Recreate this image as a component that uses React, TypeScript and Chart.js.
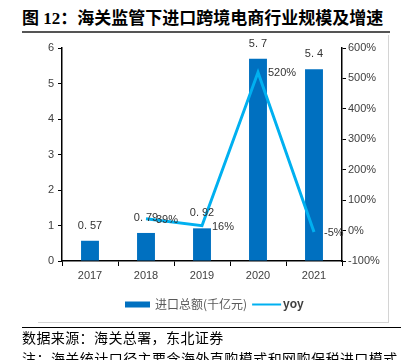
import React, { useEffect, useRef } from "react";
import { Chart, registerables } from "chart.js";

Chart.register(...registerables);

const categories = ["2017", "2018", "2019", "2020", "2021"];
const importTotals = [0.57, 0.79, 0.92, 5.7, 5.4];
const yoyGrowth: (number | null)[] = [null, 39, 16, 520, -5];
const leftTicks = { min: 0, max: 6, step: 1 };
const rightTicks = { min: -100, max: 600, step: 100 };
const seriesNames = ["进口总额(千亿元)", "yoy"];

const BAR_COLOR = "#0070C0";
const LINE_COLOR = "#00B0F0";
const NUM_FONT = "'Liberation Sans', Arial, sans-serif";
const CJK_FONT = "'Noto Sans CJK SC', sans-serif";

const labelPlugin = {
  id: "customLabels",
  afterDatasetsDraw(chart: any) {
    const ctx = chart.ctx;
    ctx.save();
    ctx.font = `11px ${NUM_FONT}`;
    ctx.fillStyle = "#333333";
    const barMeta = chart.getDatasetMeta(0);
    barMeta.data.forEach((el: any, i: number) => {
      const txt = String(importTotals[i]).replace(".", ". ");
      ctx.textAlign = "center";
      ctx.textBaseline = "middle";
      ctx.fillText(txt, el.x, el.y - 15);
    });
    const lineMeta = chart.getDatasetMeta(1);
    lineMeta.data.forEach((el: any, i: number) => {
      const v = yoyGrowth[i];
      if (v === null || v === undefined) return;
      ctx.textAlign = "left";
      ctx.textBaseline = "middle";
      ctx.fillText(`${v}%`, el.x + 10, el.y + 1);
    });
    ctx.restore();
  },
  afterDraw(chart: any) {
    const ctx = chart.ctx;
    ctx.save();
    let x = 125;
    const y = 304.5;
    ctx.fillStyle = BAR_COLOR;
    ctx.fillRect(x, y - 3, 25, 6);
    x += 30;
    ctx.font = `12px ${CJK_FONT}`;
    ctx.fillStyle = "#595959";
    ctx.textAlign = "left";
    ctx.textBaseline = "middle";
    ctx.fillText(seriesNames[0], x, y);
    x += ctx.measureText(seriesNames[0]).width + 5;
    ctx.strokeStyle = LINE_COLOR;
    ctx.lineWidth = 2;
    ctx.beginPath();
    ctx.moveTo(x, y);
    ctx.lineTo(x + 29, y);
    ctx.stroke();
    x += 31;
    ctx.font = `bold 12px ${NUM_FONT}`;
    ctx.fillStyle = "#404040";
    ctx.fillText(seriesNames[1], x, y);
    ctx.restore();
  },
};

export default function App() {
  const ref = useRef<HTMLCanvasElement>(null);
  useEffect(() => {
    if (!ref.current) return;
    const chart = new Chart(ref.current, {
      type: "bar",
      data: {
        labels: categories,
        datasets: [
          {
            type: "bar",
            label: seriesNames[0],
            data: importTotals,
            backgroundColor: BAR_COLOR,
            yAxisID: "y",
            barPercentage: 0.32,
            categoryPercentage: 1,
            order: 2,
          },
          {
            type: "line",
            label: seriesNames[1],
            data: yoyGrowth,
            borderColor: LINE_COLOR,
            backgroundColor: LINE_COLOR,
            borderWidth: 3,
            pointRadius: 0,
            tension: 0,
            yAxisID: "y1",
            order: 1,
          } as any,
        ],
      },
      options: {
        animation: false,
        responsive: false,
        devicePixelRatio: 1,
        layout: { padding: { left: 20, right: 20, top: 48, bottom: 69 } },
        plugins: { legend: { display: false }, tooltip: { enabled: false }, title: { display: false } },
        scales: {
          x: {
            grid: { display: true, drawOnChartArea: false, drawTicks: true, tickLength: 5, color: "#000", offset: true },
            border: { color: "#000", width: 1.5 },
            ticks: { color: "#404040", font: { size: 11, family: NUM_FONT }, padding: 3 },
            afterFit(s: any) { s.height = 30; },
          },
          y: {
            position: "left",
            min: leftTicks.min,
            max: leftTicks.max,
            ticks: { stepSize: leftTicks.step, color: "#404040", font: { size: 11, family: NUM_FONT }, padding: 4 },
            grid: { drawOnChartArea: false, drawTicks: true, tickLength: 4, color: "#000" },
            border: { color: "#000", width: 1.5 },
            afterFit(s: any) { s.width = 42; },
          },
          y1: {
            position: "right",
            min: rightTicks.min,
            max: rightTicks.max,
            ticks: {
              stepSize: rightTicks.step,
              color: "#404040",
              font: { size: 11, family: NUM_FONT },
              padding: 2,
              callback: (v: any) => `${v}%`,
            },
            grid: { drawOnChartArea: false, drawTicks: true, tickLength: 4, color: "#000" },
            border: { color: "#000", width: 1.5 },
            afterFit(s: any) { s.width = 39; },
          },
        },
      },
      plugins: [labelPlugin],
    } as any);
    return () => chart.destroy();
  }, []);

  return (
    <div style={{ position: "absolute", left: 0, top: 0, width: 401, height: 360, overflow: "hidden", background: "#fff" }}>
      <div style={{ position: "absolute", left: 22, top: 9, fontSize: 17, lineHeight: "20px", fontWeight: "bold", fontFamily: "'Liberation Serif', 'Noto Sans CJK SC', serif", color: "#000", whiteSpace: "nowrap" }}>
        图 12：海关监管下进口跨境电商行业规模及增速
      </div>
      <div style={{ position: "absolute", left: 22, top: 31, width: 368, height: 2, background: "#555" }} />
      <div style={{ position: "absolute", left: 38, top: 35, width: 350, height: 287, borderRight: "1px solid #d4d4d4", borderBottom: "1px solid #d4d4d4" }} />
      <canvas ref={ref} width={401} height={360} style={{ position: "absolute", left: 0, top: 0, width: 401, height: 360 }} />
      <div style={{ position: "absolute", left: 22, top: 327, width: 379, height: 1, background: "#000" }} />
      <div style={{ position: "absolute", left: 22, top: 329, fontSize: 14, lineHeight: "16px", letterSpacing: "0.4px", fontFamily: "'Noto Sans CJK SC', sans-serif", color: "#000", whiteSpace: "nowrap" }}>
        数据来源：海关总署，东北证券
      </div>
      <div style={{ position: "absolute", left: 22, top: 350, fontSize: 14, lineHeight: "16px", letterSpacing: "0.45px", fontFamily: "'Noto Sans CJK SC', sans-serif", color: "#000", whiteSpace: "nowrap" }}>
        注：海关统计口径主要含海外直购模式和网购保税进口模式
      </div>
    </div>
  );
}
